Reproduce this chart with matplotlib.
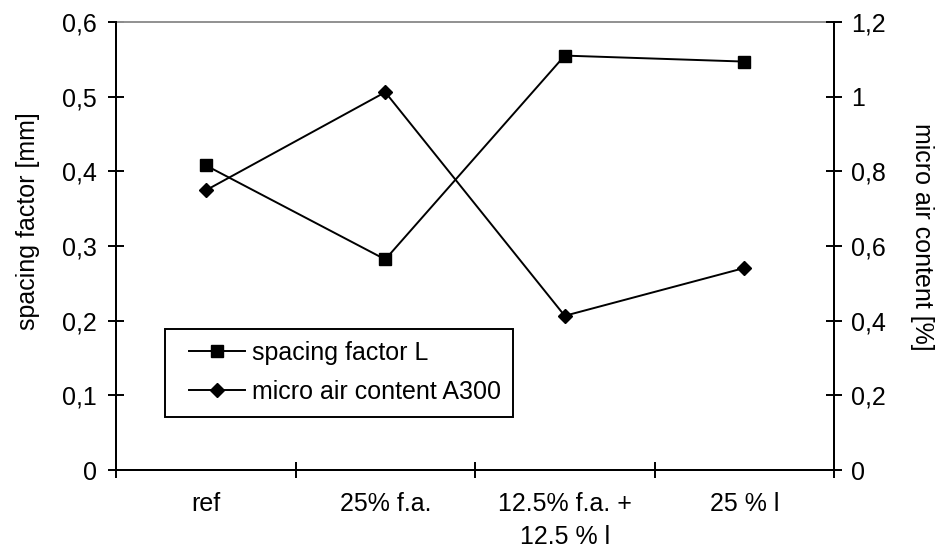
import matplotlib
matplotlib.use("Agg")
import matplotlib.pyplot as plt
from matplotlib.ticker import FuncFormatter, FixedLocator
from matplotlib.legend_handler import HandlerLine2D

plt.rcParams['font.family'] = ['Liberation Sans', 'DejaVu Sans']

categories = ["ref", "25% f.a.", "12.5% f.a. +\n12.5 % l", "25 % l"]
spacing_factor = [0.408, 0.282, 0.555, 0.547]
micro_air = [0.749, 1.012, 0.413, 0.541]
left_ticks = [0, 0.1, 0.2, 0.3, 0.4, 0.5, 0.6]
right_ticks = [0, 0.2, 0.4, 0.6, 0.8, 1.0, 1.2]

FS = 18

def comma_fmt(v, pos=None):
    s = f"{v:.1f}".rstrip('0').rstrip('.')
    return s.replace('.', ',')

fig = plt.figure(figsize=(9.44, 5.52), dpi=100)
ax = fig.add_axes([116 / 944, 1 - 470 / 552, (834 - 116) / 944, (470 - 22) / 552])
ax2 = ax.twinx()

x = list(range(len(categories)))
l1, = ax.plot(x, spacing_factor, color='black', lw=1.4, marker='s', markersize=8,
              label='spacing factor L')
l2, = ax2.plot(x, micro_air, color='black', lw=1.4, marker='D', markersize=7.5,
               label='micro air content A300')

ax.set_xlim(-0.5, 3.5)
ax.set_ylim(0, 0.6)
ax2.set_ylim(0, 1.2)

ax.set_yticks(left_ticks)
ax2.set_yticks(right_ticks)
ax.yaxis.set_major_formatter(FuncFormatter(comma_fmt))
ax2.yaxis.set_major_formatter(FuncFormatter(comma_fmt))

ax.set_xticks(x)
ax.set_xticklabels(categories, fontsize=FS, linespacing=1.45)
ax.xaxis.set_minor_locator(FixedLocator([-0.5, 0.5, 1.5, 2.5, 3.5]))
ax.tick_params(axis='x', which='major', length=0, pad=16)
ax.tick_params(axis='x', which='minor', direction='inout', length=12, width=1.4)
ax.tick_params(axis='y', direction='inout', length=12, width=1.4, labelsize=FS, pad=8)
ax2.tick_params(axis='y', direction='inout', length=12, width=1.4, labelsize=FS, pad=6.5)

for a in (ax, ax2):
    for sp in a.spines.values():
        sp.set_linewidth(1.4)
        sp.set_color('black')
ax.spines['top'].set_color('#909090')
ax2.spines['top'].set_visible(False)

ax.set_ylabel('spacing factor [mm]', fontsize=FS)
ax.yaxis.set_label_coords(-0.106, 0.555)
ax2.set_ylabel('micro air content [%]', fontsize=FS, rotation=270, va='center')
ax2.yaxis.set_label_coords(1.122, 0.52)

hmap = {l1: HandlerLine2D(xpad=0.46), l2: HandlerLine2D(xpad=0.46)}
leg = ax.legend([l1, l2], ['spacing factor L', 'micro air content A300'],
                loc='lower left', bbox_to_anchor=(0.068, 0.119), fontsize=FS,
                frameon=True, fancybox=False, edgecolor='black', framealpha=1,
                handlelength=2.7, handletextpad=0.27, labelspacing=0.6,
                borderpad=0.5, borderaxespad=0, handler_map=hmap)
leg.get_frame().set_linewidth(1.4)

fig.savefig('out.png', dpi=100)
